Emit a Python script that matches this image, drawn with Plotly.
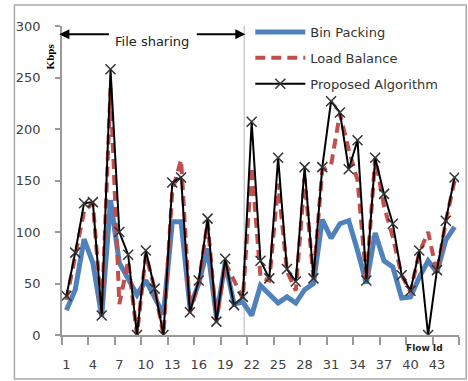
import plotly.graph_objects as go

flow_ids = list(range(1, 46))
bin_packing = [24, 44, 93, 70, 18, 131, 70, 55, 39, 53, 37, 20, 110, 110, 27, 50, 84, 18, 70, 30,
               32, 19, 48, 39, 31, 37, 31, 44, 50, 112, 94, 108, 111, 82, 50, 99, 72, 66, 36, 37,
               56, 72, 61, 92, 105]
load_balance = [34, 75, 120, 128, 20, 240, 30, 72, 0, 78, 45, 0, 140, 170, 22, 50, 110, 13, 70, 53,
                35, 163, 56, 53, 147, 62, 43, 152, 55, 160, 165, 215, 180, 150, 53, 172, 125, 95, 58, 42,
                80, 100, 60, 110, 150]
proposed = [38, 80, 128, 129, 19, 258, 100, 78, 0, 82, 45, 0, 148, 153, 22, 53, 113, 13, 74, 29,
            37, 207, 72, 55, 172, 64, 52, 163, 55, 163, 227, 216, 161, 189, 53, 172, 137, 108, 58, 43,
            82, 0, 63, 111, 153]
x_tick_vals = list(range(1, 46, 3))
x_minor_vals = [v - 0.5 for v in range(1, 47, 3)]
y_tick_vals = [0, 50, 100, 150, 200, 250, 300]

FONT = "DejaVu Sans"
fig = go.Figure()
fig.add_trace(go.Scatter(x=flow_ids, y=bin_packing, mode="lines", name="Bin Packing",
                         legendgroup="a", line=dict(color="#4F81BD", width=5)))
fig.add_trace(go.Scatter(x=flow_ids, y=load_balance, mode="lines", name="Load Balance",
                         legendgroup="b", line=dict(color="#C0504D", width=4, dash="10px,6px")))
fig.add_trace(go.Scatter(x=flow_ids, y=proposed, mode="lines+markers", name="Proposed Algorithm",
                         legendgroup="c", line=dict(color="black", width=2),
                         marker=dict(symbol="x-thin-open", size=10, color="#333",
                                     line=dict(width=1.5, color="#333"))))

L, R, T, B = 61.6, 458.8, 26.0, 335.0
W, H = R - L, B - T
def px_x(p):
    return (p - L) / W
def px_y(p):
    return (B - p) / H

shapes = [
    dict(type="line", xref="x", yref="y", x0=21.16, x1=21.16, y0=0, y1=300,
         line=dict(color="#cccccc", width=1.5), layer="below"),
    dict(type="rect", xref="paper", yref="paper", x0=px_x(14), x1=px_x(466),
         y0=px_y(379), y1=px_y(5), line=dict(color="#aaaaaa", width=1.5)),
]

annotations = [
    dict(x=0.2, y=292, xref="x", yref="y", ax=5.98, ay=292, axref="x", ayref="y",
         text="", showarrow=True, arrowhead=2, arrowsize=1, arrowwidth=2, arrowcolor="black", standoff=0),
    dict(x=21.28, y=292, xref="x", yref="y", ax=15.6, ay=292, axref="x", ayref="y",
         text="", showarrow=True, arrowhead=2, arrowsize=1, arrowwidth=2, arrowcolor="black", standoff=0),
    dict(x=10.71, y=284.5, xref="x", yref="y", text="File sharing", showarrow=False,
         xanchor="center", yanchor="middle",
         font=dict(family=FONT, size=13, color="#222")),
    dict(x=px_x(50), y=px_y(56), xref="paper", yref="paper", text="<b>Kbps</b>", textangle=-90,
         xanchor="center", yanchor="middle", showarrow=False,
         font=dict(family="Liberation Sans Narrow", size=11, color="black")),
    dict(x=px_x(424), y=px_y(348), xref="paper", yref="paper", text="<b>Flow Id</b>",
         xanchor="center", yanchor="middle", showarrow=False,
         font=dict(family=FONT, size=9, color="#222")),
]

fig.update_layout(
    width=468, height=381,
    margin=dict(l=L, r=468 - R, t=T, b=381 - B, autoexpand=False),
    paper_bgcolor="white", plot_bgcolor="white",
    showlegend=True,
    legend=dict(x=px_x(250), y=px_y(17), xanchor="left", yanchor="top",
                bgcolor="rgba(0,0,0,0)", font=dict(family=FONT, size=13, color="#333"),
                itemwidth=50, tracegroupgap=6, traceorder="grouped"),
    shapes=shapes, annotations=annotations,
    xaxis=dict(range=[0.5, 45.5], tickmode="array", tickvals=x_tick_vals,
               ticks="", showgrid=False, zeroline=False, showline=True, automargin=False,
               linecolor="#999999", linewidth=1.5, ticklabelstandoff=17,
               tickfont=dict(family=FONT, size=13, color="#404040"),
               minor=dict(tickmode="array", tickvals=x_minor_vals, ticks="outside",
                          ticklen=8, tickwidth=1.5, tickcolor="#999999", showgrid=False)),
    yaxis=dict(range=[0, 300], tickmode="array", tickvals=y_tick_vals, automargin=False,
               ticks="outside", ticklen=5, tickwidth=1.5, tickcolor="#999999",
               showgrid=False, zeroline=False, showline=True, linecolor="#999999", linewidth=1.5,
               ticklabelstandoff=12,
               tickfont=dict(family=FONT, size=13, color="#404040")),
)

fig.write_html("out.html", config={"displayModeBar": False},
               post_script="document.body.style.margin='0';document.body.style.overflow='hidden';")
